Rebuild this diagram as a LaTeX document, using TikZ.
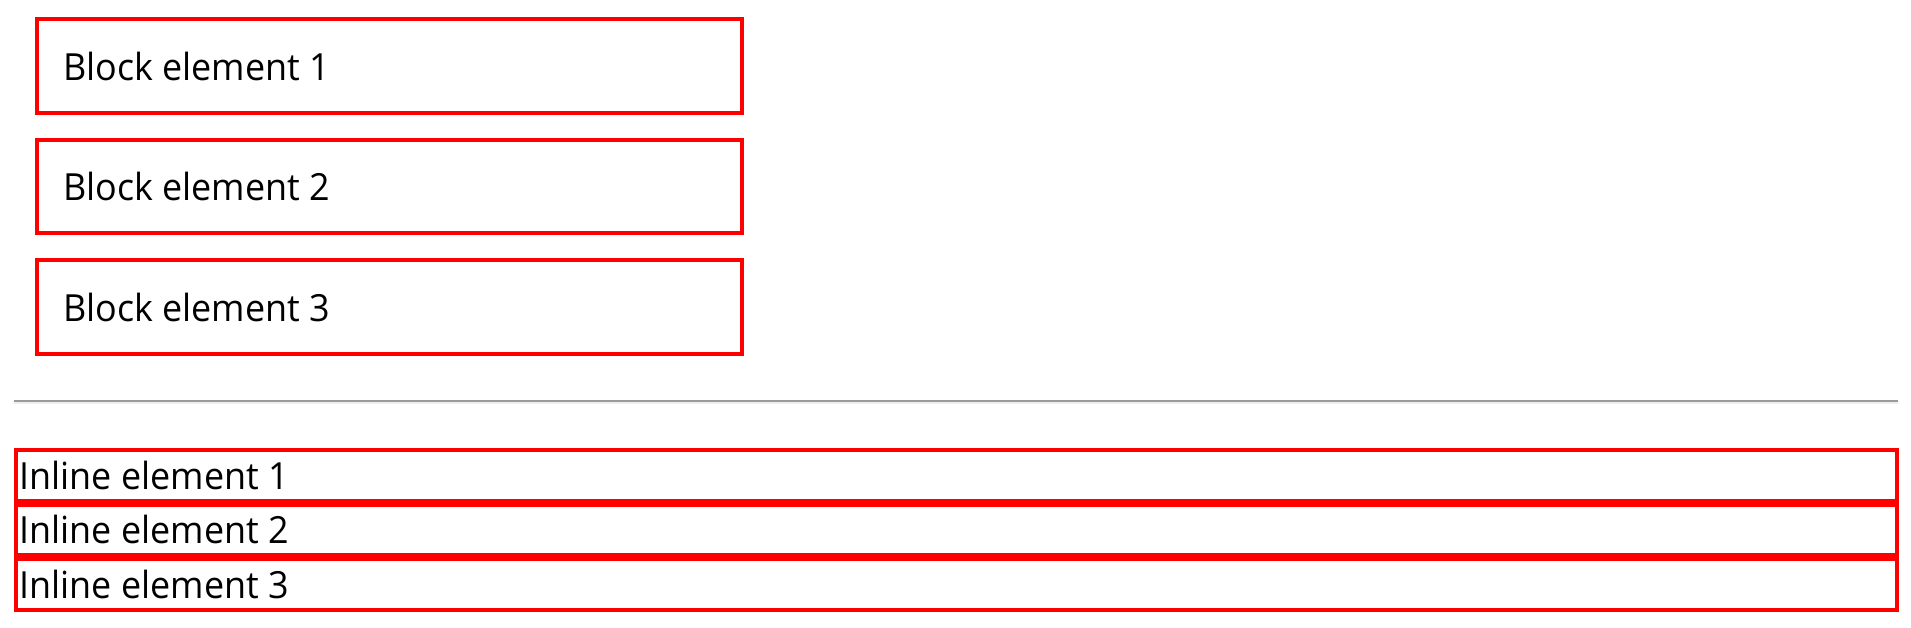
\documentclass[tikz,border=0pt]{standalone}
\usepackage{fontspec}
\setmainfont[FakeStretch=0.96]{Open Sans}
\definecolor{hrdark}{HTML}{9A9A9A}
\definecolor{hrlight}{HTML}{EEEEEE}
\begin{document}
\begin{tikzpicture}[x=1pt,y=-1pt,
  blockbox/.style={draw=red, line width=4pt, rectangle, inner sep=0pt, outer sep=0pt,
     minimum width=705pt, minimum height=93.5pt, anchor=north west},
  inlinebox/.style={draw=red, line width=4pt, rectangle, inner sep=0pt, outer sep=0pt,
     minimum width=1880.7pt, minimum height=50.5pt, anchor=north west},
  lbl/.style={inner sep=0pt, outer sep=0pt, anchor=base west, font=\fontsize{37.4}{44}\selectfont}]
\useasboundingbox[fill=white] (0,0) rectangle (1911,627);
% block elements
\node[blockbox] (b1) at (37,19) {};
\node[blockbox] (b2) at (37,139.6) {};
\node[blockbox] (b3) at (37,260.2) {};
\node[lbl] (t1) at (63.3,80) {Block element 1};
\node[lbl] (t2) at (63.3,200.6) {Block element 2};
\node[lbl] (t3) at (63.3,321.2) {Block element 3};
% horizontal rule
\fill[hrdark] (14,400) rectangle (1898.3,402.4);
\fill[hrlight] (14,402.4) rectangle (1898.3,404);
% inline elements
\node[inlinebox] (i1) at (16,450) {};
\node[inlinebox] (i2) at (16,504.5) {};
\node[inlinebox] (i3) at (16,559) {};
\node[lbl] (u1) at (19.7,489.3) {Inline element 1};
\node[lbl] (u2) at (19.7,543.8) {Inline element 2};
\node[lbl] (u3) at (19.7,598.3) {Inline element 3};
\end{tikzpicture}
\end{document}
